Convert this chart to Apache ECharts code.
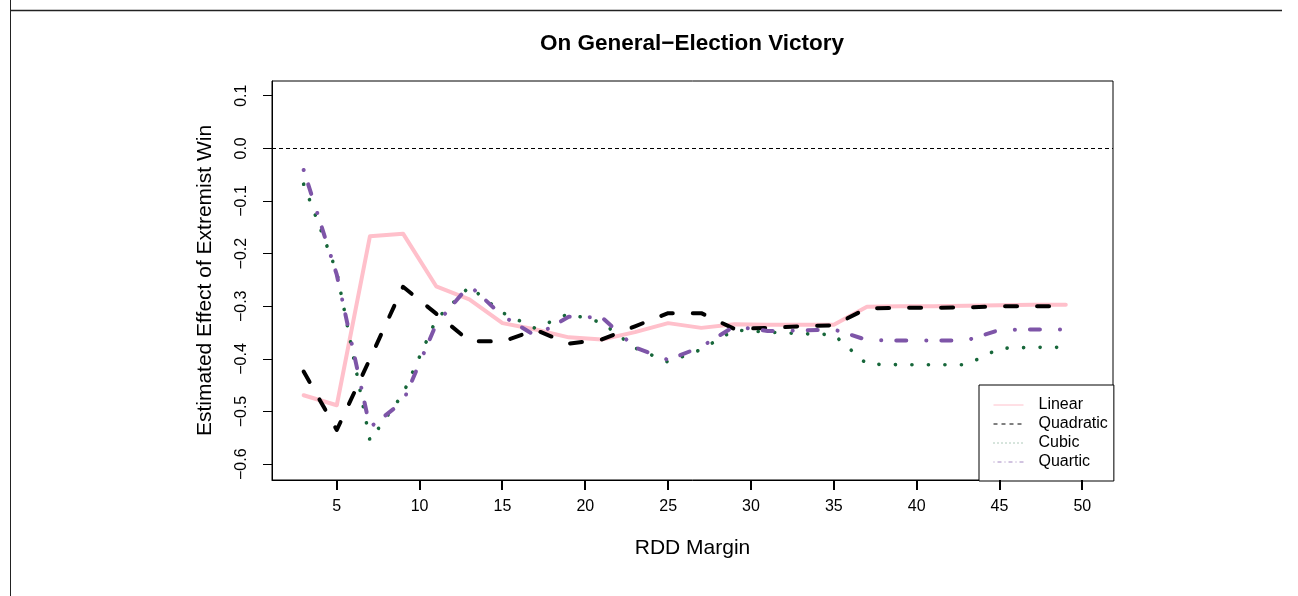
<!DOCTYPE html>
<html>
<head>
<meta charset="utf-8">
<script src="https://cdn.jsdelivr.net/npm/echarts@6/dist/echarts.min.js"></script>
<style>
html,body{margin:0;padding:0;background:#fff;}
#c{width:1298px;height:596px;}
</style>
</head>
<body>
<div id="c"></div>
<script>
// ---- data ----
const margins = [3,5,7,9,11,13,15,17,19,21,23,25,27,29,31,33,35,37,39,41,43,45,47,49];
const linear    = [-0.469,-0.488,-0.167,-0.162,-0.262,-0.287,-0.332,-0.344,-0.359,-0.363,-0.349,-0.332,-0.341,-0.334,-0.335,-0.335,-0.335,-0.301,-0.300,-0.300,-0.299,-0.298,-0.297,-0.297];
const quadratic = [-0.424,-0.535,-0.400,-0.263,-0.314,-0.366,-0.367,-0.345,-0.371,-0.363,-0.338,-0.313,-0.313,-0.343,-0.341,-0.338,-0.336,-0.304,-0.303,-0.303,-0.302,-0.300,-0.300,-0.300];
const cubic     = [-0.068,-0.235,-0.555,-0.466,-0.325,-0.263,-0.312,-0.342,-0.314,-0.331,-0.379,-0.406,-0.382,-0.345,-0.349,-0.352,-0.354,-0.410,-0.411,-0.411,-0.411,-0.380,-0.378,-0.378];
const quartic   = [-0.041,-0.240,-0.530,-0.481,-0.334,-0.260,-0.318,-0.356,-0.320,-0.321,-0.378,-0.402,-0.377,-0.338,-0.347,-0.346,-0.344,-0.364,-0.365,-0.365,-0.365,-0.345,-0.344,-0.344];
const xTicks = [5,10,15,20,25,30,35,40,45,50];
const yTicks = [-0.6,-0.5,-0.4,-0.3,-0.2,-0.1,0.0,0.1];
const seriesNames = ['Linear','Quadratic','Cubic','Quartic'];
const titleText = 'On General\u2212Election Victory';
const xTitle = 'RDD Margin';
const yTitle = 'Estimated Effect of Extremist Win';

// ---- helpers ----
const pairs = arr => margins.map((m,i)=>[m, arr[i]]);
const fmtY = v => (v < 0 ? '\u2212' : '') + Math.abs(v).toFixed(1);

const FONT = '"Liberation Sans", Arial, Helvetica, sans-serif';
const colors = {
  Linear: '#FFC0CB',
  Quadratic: '#000000',
  Cubic: '#17673A',
  Quartic: '#7E55A8'
};
const hiddenSymbol = {color: 'rgba(0,0,0,0)', borderWidth: 0, opacity: 0};
const TICK_LEN = 9;
const Y_MIN = -0.630, Y_MAX = 0.128;

const chart = echarts.init(document.getElementById('c'), null, {renderer:'canvas'});

const option = {
  animation: false,
  backgroundColor: '#ffffff',
  textStyle: {fontFamily: FONT},
  grid: {left: 272, top: 81, right: 185, bottom: 116, show: true, borderColor: '#000', borderWidth: 1, backgroundColor: 'transparent'},
  xAxis: {
    type: 'value', min: 1.09, max: 51.85, position: 'bottom',
    splitLine: {show: false},
    axisLine: {show: true, onZero: false, lineStyle: {color: '#000', width: 1}},
    axisTick: {show: false},
    axisLabel: {show: true, margin: 19, fontSize: 16, color: '#000', fontFamily: FONT, customValues: xTicks, formatter: v => String(v)},
    name: xTitle, nameLocation: 'middle', nameGap: 58,
    nameTextStyle: {fontSize: 21, color: '#000', fontFamily: FONT}
  },
  yAxis: {
    type: 'value', min: Y_MIN, max: Y_MAX, position: 'left',
    splitLine: {show: false},
    axisLine: {show: true, onZero: false, lineStyle: {color: '#000', width: 1}},
    axisTick: {show: true, inside: false, length: TICK_LEN, lineStyle: {color: '#000', width: 1}, customValues: yTicks},
    axisLabel: {show: true, margin: 22, fontSize: 16, color: '#000', rotate: 90, fontFamily: FONT, customValues: yTicks, formatter: v => fmtY(v)},
    name: yTitle, nameLocation: 'middle', nameGap: 56, nameRotate: 90,
    nameTextStyle: {fontSize: 21, color: '#000', fontFamily: FONT}
  },
  legend: {
    orient: 'vertical',
    left: 979, top: 385,
    padding: [12, 6, 11, 14],
    borderColor: '#000', borderWidth: 1, borderRadius: 0,
    backgroundColor: '#fff',
    itemWidth: 30, itemHeight: 14, itemGap: 3,
    textStyle: {fontSize: 16, color: '#000', fontFamily: FONT, lineHeight: 16, padding: [0,0,0,10]},
    data: [
      {name: 'Linear', itemStyle: hiddenSymbol, lineStyle: {width: 1, type: 'solid', color: colors.Linear, cap: 'butt'}},
      {name: 'Quadratic', itemStyle: hiddenSymbol, lineStyle: {width: 1, type: [4,4], color: colors.Quadratic, cap: 'butt'}},
      {name: 'Cubic', itemStyle: hiddenSymbol, lineStyle: {width: 1, type: [1,3], color: colors.Cubic, cap: 'butt', opacity: 0.7}},
      {name: 'Quartic', itemStyle: hiddenSymbol, lineStyle: {width: 1, type: [1,3,4,3], color: colors.Quartic, cap: 'butt', opacity: 0.7}}
    ]
  },
  graphic: [
    {type: 'line', shape: {x1: 10, y1: 10.5, x2: 1282, y2: 10.5}, style: {stroke: '#222', lineWidth: 1.3}, silent: true},
    {type: 'line', shape: {x1: 10.5, y1: 0, x2: 10.5, y2: 596}, style: {stroke: '#222', lineWidth: 1}, silent: true},
    {type: 'text', silent: true, x: 692, y: 44,
     style: {text: titleText, align: 'center', verticalAlign: 'middle', font: 'bold 22.5px ' + FONT, fill: '#000'}}
  ],
  series: [
    {
      name: 'Linear', type: 'line', data: pairs(linear), symbol: 'none', showSymbol: false, z: 2,
      lineStyle: {color: colors.Linear, width: 4, type: 'solid', cap: 'round', join: 'round'},
      itemStyle: {color: colors.Linear},
      markLine: {
        silent: true, symbol: ['none','none'], label: {show: false},
        lineStyle: {color: '#000', width: 1, type: [4,3]},
        data: [{yAxis: 0}]
      }
    },
    {
      name: 'Quadratic', type: 'line', data: pairs(quadratic), symbol: 'none', showSymbol: false, z: 3,
      lineStyle: {color: colors.Quadratic, width: 4, type: [12,20], cap: 'round', join: 'round'},
      itemStyle: {color: colors.Quadratic}
    },
    {
      name: 'Cubic', type: 'line', data: pairs(cubic), symbol: 'none', showSymbol: false, z: 4,
      lineStyle: {color: colors.Cubic, width: 3.6, type: [0.1,16.4], cap: 'round', join: 'round'},
      itemStyle: {color: colors.Cubic}
    },
    {
      name: 'Quartic', type: 'line', data: pairs(quartic), symbol: 'none', showSymbol: false, z: 5,
      lineStyle: {color: colors.Quartic, width: 4, type: [0.1,15,10,20], cap: 'round', join: 'round'},
      itemStyle: {color: colors.Quartic}
    },
    {
      // x-axis tick marks, placed through the axis scale
      name: 'xTickMarks', type: 'custom', silent: true, clip: false, z: 10,
      data: xTicks.map(v => [v, Y_MIN]),
      renderItem: (params, api) => {
        const p = api.coord([api.value(0), api.value(1)]);
        return {type: 'rect', shape: {x: Math.round(p[0]) - 1, y: p[1], width: 2, height: TICK_LEN + 1},
                style: {fill: '#000'}};
      }
    }
  ]
};
chart.setOption(option);
</script>
</body>
</html>
